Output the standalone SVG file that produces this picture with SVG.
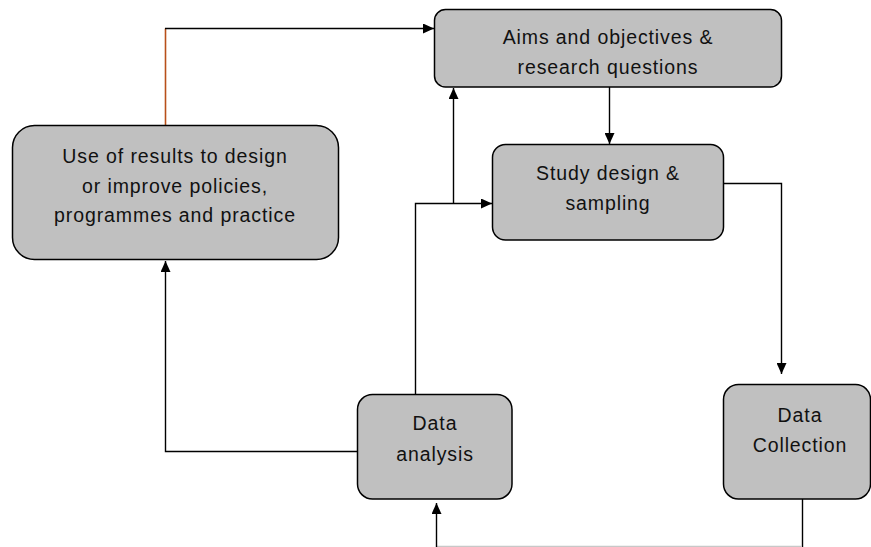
<svg xmlns="http://www.w3.org/2000/svg" width="871" height="547" viewBox="0 0 871 547">
  <style>
    .box { fill: #c0c0c0; stroke: #000; stroke-width: 1.5; }
    .lbl { font-family: "Liberation Sans", "DejaVu Sans", sans-serif; font-size: 19.5px; letter-spacing: 0.9px; fill: #111; text-anchor: middle; }
    .wire { fill: none; stroke: #000; stroke-width: 1.4; }
  </style>
  <defs>
    <marker id="head" markerUnits="userSpaceOnUse" markerWidth="12" markerHeight="10" refX="11" refY="5" orient="auto">
      <path d="M0,0 L11,5 L0,10 Z" fill="#000"/>
    </marker>
  </defs>
  <rect width="871" height="547" fill="#fff"/>

  <g id="connectors">
    <!-- feedback from use of results to aims -->
    <path d="M165.5,125 V28.5" fill="none" stroke="#b8501a" stroke-width="1.6"/>
    <path class="wire" d="M165,28.5 H434" marker-end="url(#head)"/>
    <!-- aims to study design -->
    <path class="wire" d="M609.5,87 V144" marker-end="url(#head)"/>
    <!-- study design to data collection -->
    <path class="wire" d="M723,183.5 H781.5 V374" marker-end="url(#head)"/>
    <!-- data collection round to data analysis -->
    <path class="wire" d="M802.5,499 V547"/>
    <path d="M802,546.5 H436" fill="none" stroke="#c8c8c8" stroke-width="1.4"/>
    <path class="wire" d="M436.5,547 V503" marker-end="url(#head)"/>
    <!-- data analysis up to study design and aims -->
    <path class="wire" d="M415.5,394 V203.5 H492" marker-end="url(#head)"/>
    <path class="wire" d="M453.5,203.5 V88" marker-end="url(#head)"/>
    <!-- data analysis to use of results -->
    <path class="wire" d="M357,451.5 H165.5 V261" marker-end="url(#head)"/>
  </g>

  <g id="use-of-results">
    <rect class="box" x="12.5" y="125.5" width="326" height="134" rx="22"/>
    <text class="lbl" x="175" y="163">Use of results to design</text>
    <text class="lbl" x="175" y="193">or improve policies,</text>
    <text class="lbl" x="175" y="222">programmes and practice</text>
  </g>

  <g id="aims">
    <rect class="box" x="434.5" y="9.5" width="347" height="77.5" rx="11"/>
    <text class="lbl" x="608" y="44">Aims and objectives &amp;</text>
    <text class="lbl" x="608" y="74">research questions</text>
  </g>

  <g id="study-design">
    <rect class="box" x="492.5" y="144.5" width="231" height="95.5" rx="13"/>
    <text class="lbl" x="608" y="180">Study design &amp;</text>
    <text class="lbl" x="608" y="210">sampling</text>
  </g>

  <g id="data-analysis">
    <rect class="box" x="357.5" y="394.5" width="154.5" height="104.5" rx="15"/>
    <text class="lbl" x="435" y="430">Data</text>
    <text class="lbl" x="435" y="461">analysis</text>
  </g>

  <g id="data-collection">
    <rect class="box" x="723.5" y="384.5" width="147" height="114.5" rx="15"/>
    <text class="lbl" x="800" y="422">Data</text>
    <text class="lbl" x="800" y="452">Collection</text>
  </g>
</svg>
